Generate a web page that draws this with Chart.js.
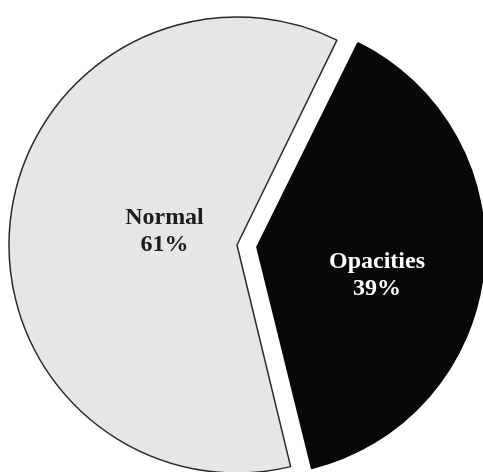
<!DOCTYPE html>
<html>
<head>
<meta charset="utf-8">
<script src="https://cdn.jsdelivr.net/npm/chart.js@4.4.0/dist/chart.umd.min.js"></script>
<style>
  body { margin: 0; background: #fff; overflow: hidden; }
</style>
</head>
<body>
<canvas id="pieChart" width="483" height="472"></canvas>
<script>
// --- Data ---
const labels = ['Opacities', 'Normal'];
const values = [39, 61];
const sliceColors = ['#080808', '#e4e6e8'];
const borderColors = ['#080808', '#2a2a2a'];
const textColors = ['#ffffff', '#1c1c1c'];

// --- Plugin: Chart.js menambah radius slice yang di-offset, kita kembalikan ---
const fixOffsetRadius = {
  id: 'fixOffsetRadius',
  afterDatasetUpdate(chart) {
    const meta = chart.getDatasetMeta(0);
    meta.data.forEach((arc) => {
      const off = (arc.options.offset || 0) / 4;
      if (!off) return;
      const fix = 1 - Math.sin(Math.min(Math.PI, arc.circumference));
      arc.outerRadius = arc.outerRadius - off * fix;
    });
  }
};

// --- Plugin: label di dalam slice ---
const sliceLabels = {
  id: 'sliceLabels',
  afterDatasetsDraw(chart, args, opts) {
    const ctx = chart.ctx;
    const meta = chart.getDatasetMeta(0);
    const total = values.reduce((a, b) => a + b, 0);
    meta.data.forEach((arc, i) => {
      const mid = (arc.startAngle + arc.endAngle) / 2;
      const shift = (arc.options.offset || 0) / 4;
      const d = 228 * opts.dist[i];
      const cx = arc.x + Math.cos(mid) * (d + shift);
      const cy = arc.y + Math.sin(mid) * (d + shift) + opts.dy[i];
      ctx.save();
      ctx.font = 'bold 24px "Liberation Serif", "Times New Roman", serif';
      ctx.fillStyle = textColors[i];
      ctx.textAlign = 'center';
      ctx.textBaseline = 'alphabetic';
      ctx.fillText(labels[i], cx, cy - 6);
      ctx.fillText(Math.round(values[i] / total * 100) + '%', cx, cy + 21);
      ctx.restore();
    });
  }
};

new Chart(document.getElementById('pieChart'), {
  type: 'pie',
  data: {
    labels: labels,
    datasets: [{
      data: values,
      backgroundColor: sliceColors,
      borderColor: borderColors,
      borderWidth: 1.5,
      offset: [80, 0],
      radius: 228,
      clip: false
    }]
  },
  options: {
    responsive: false,
    animation: false,
    rotation: 26,
    layout: { padding: { left: 0, right: 9, top: 18, bottom: 0 } },
    plugins: {
      legend: { display: false },
      tooltip: { enabled: false },
      sliceLabels: { dist: [0.53, 0.32], dy: [14, -7] }
    }
  },
  plugins: [fixOffsetRadius, sliceLabels]
});
</script>
</body>
</html>
